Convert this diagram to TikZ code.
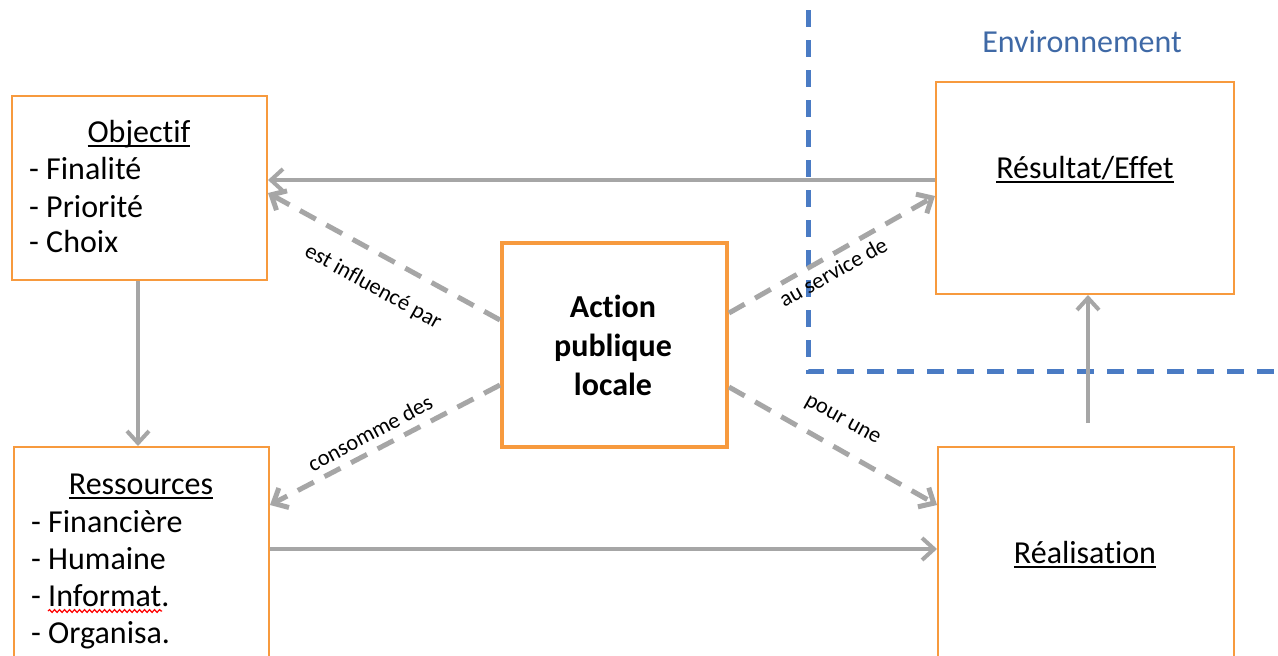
\documentclass[tikz,border=0pt]{standalone}
\usepackage{fontspec}
\setmainfont{Carlito}[Ligatures={NoCommon,NoRequired,NoContextual}]
\usetikzlibrary{arrows.meta,decorations.pathmorphing}
\definecolor{boxorange}{HTML}{F79A3E}
\definecolor{arrgray}{HTML}{A6A6A6}
\definecolor{envblue}{HTML}{4A7BC4}
\definecolor{envtext}{HTML}{3F69A6}
\newcommand{\myul}[1]{\setbox0\hbox{#1}\rlap{\rule[-4.5pt]{\wd0}{2pt}}\box0}
\begin{document}
\begin{tikzpicture}[x=1pt,y=-1pt,
  box/.style={draw=boxorange, line width=2pt, inner sep=0pt},
  actbox/.style={draw=boxorange, line width=4pt, inner sep=0pt},
  txt/.style={inner sep=0pt, font=\fontsize{32}{38}\selectfont},
  acttxt/.style={inner sep=0pt, font=\fontsize{32}{38}\selectfont\bfseries},
  lbl/.style={inner sep=0pt, font=\fontsize{22.5}{26}\selectfont},
  solidarr/.style={draw=arrgray, line width=4pt, -{Straight Barb[length=12pt,width=22pt]}},
  dasharr/.style={draw=arrgray, line width=5pt, dash pattern=on 18pt off 12pt, -{Straight Barb[length=12pt,width=22pt]}},
  envline/.style={draw=envblue, line width=5pt, dash pattern=on 17pt off 13pt}]
\clip (0,0) rectangle (1278,656);
\fill[white] (0,0) rectangle (1278,656);
% boxes
\node[box, minimum width=255pt, minimum height=184pt] (obj) at (139.5,188) {};
\node[box, minimum width=255pt, minimum height=260pt] (res) at (141.5,577) {};
\node[actbox, minimum width=225pt, minimum height=204pt] (act) at (614.5,345) {};
\node[box, minimum width=298pt, minimum height=212pt] (eff) at (1085,188) {};
\node[box, minimum width=296pt, minimum height=260pt] (rea) at (1086,577) {};
% environment boundary
\draw[envline] (808,10) -- (808,371) -- (1278,371);
\node[txt, anchor=base, text=envtext] (env) at (1082,52) {Environnement};
% texts
\node[txt, anchor=base] (objT) at (139,142) {\myul{Objectif}};
\node[txt, anchor=base west] (obj1) at (29,179) {- Finalité};
\node[txt, anchor=base west] (obj2) at (29,217) {- Priorité};
\node[txt, anchor=base west] (obj3) at (29,252) {- Choix};
\node[txt, anchor=base] (resT) at (141,494) {\myul{Ressources}};
\node[txt, anchor=base west] (res1) at (31,532) {- Financière};
\node[txt, anchor=base west] (res2) at (31,569) {- Humaine};
\node[txt, anchor=base west] (res3) at (31,606) {- Informat.};
\node[txt, anchor=base west] (res4) at (31,643) {- Organisa.};
\draw[red, line width=1.2pt, decorate, decoration={snake, amplitude=1.4pt, segment length=5pt}] (48,611) -- (162,611);
\node[acttxt, anchor=base] (act1) at (613,317) {Action};
\node[acttxt, anchor=base] (act2) at (613,356) {publique};
\node[acttxt, anchor=base] (act3) at (613,395) {locale};
\node[txt, anchor=base] (effT) at (1085,178) {\myul{Résultat/Effet}};
\node[txt, anchor=base] (reaT) at (1085,563) {\myul{Réalisation}};
% solid connectors
\coordinate (reaTop) at (1088,423);
\draw[solidarr] (eff.west |- 0,180) -- (obj.east |- 0,180);
\draw[solidarr] (obj.south -| 138,0) -- (res.north -| 138,0);
\draw[solidarr] (res.east |- 0,549) -- (rea.west |- 0,549);
\draw[solidarr] (reaTop) -- (eff.south -| 1088,0);
% dashed connectors
\draw[dasharr] (act.west |- 0,320) -- (obj.east |- 0,193);
\draw[dasharr] (act.west |- 0,385) -- (res.east |- 0,505);
\draw[dasharr] (act.east |- 0,313) -- (eff.west |- 0,196);
\draw[dasharr] (act.east |- 0,387) -- (rea.west |- 0,505);
% labels
\node[lbl, rotate=-29] (l1) at (373,287) {est influencé par};
\node[lbl, rotate=28] (l2) at (370,433) {consomme des};
\node[lbl, rotate=29] (l3) at (833,272) {au service de};
\node[lbl, rotate=-29] (l4) at (842,421) {pour une};
\end{tikzpicture}
\end{document}
